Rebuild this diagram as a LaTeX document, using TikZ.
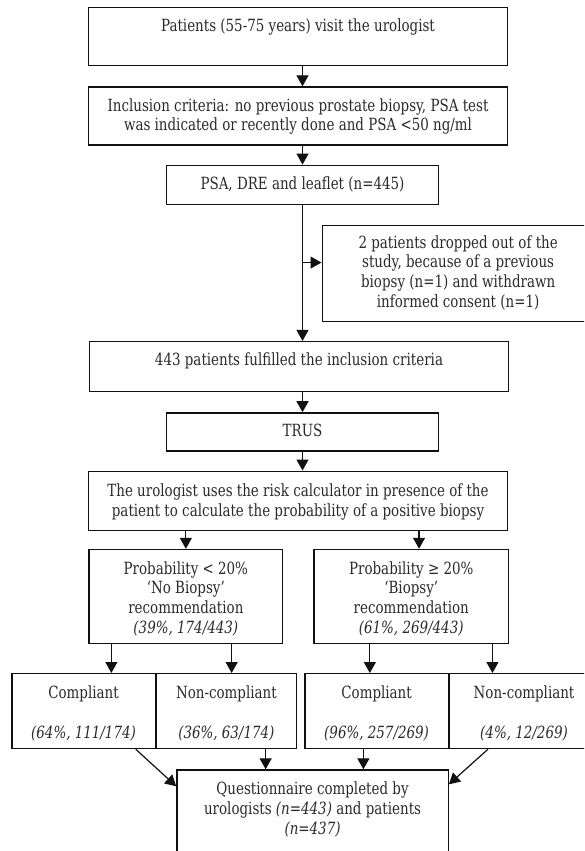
\documentclass[tikz,border=0pt]{standalone}
\usepackage{fontspec}
\setmainfont{DejaVu Serif}[FakeStretch=0.8]
\usetikzlibrary{arrows.meta,calc,positioning}
\definecolor{frame}{HTML}{111111}
\definecolor{txt}{HTML}{2A2A2A}
\tikzset{
  flowbox/.style={draw=frame,line width=1.3pt,fill=white,align=center,text=txt,
    font=\fontsize{16.8pt}{19.8pt}\selectfont,inner xsep=0pt,inner ysep=0pt,text height=24pt},
  sidebox/.style={draw=frame,line width=1.3pt,fill=white,text=txt,
    font=\fontsize{16.8pt}{19.8pt}\selectfont,inner xsep=0pt,inner ysep=0pt,text height=22.5pt,text depth=73.5pt},
  arr/.style={-{Triangle[length=11pt,width=12pt]},line width=1.2pt,draw=frame}
}
\begin{document}
\begin{tikzpicture}
  \useasboundingbox (0,0) rectangle (584pt,-851pt);
  \clip (0,0) rectangle (584pt,-851pt);
  % main column
  \node[flowbox,anchor=north,minimum width=419.3pt,text depth=34pt] (visit) at (298pt,-7pt) {Patients (55-75 years) visit the urologist};
  \node[flowbox,below=20pt of visit,minimum width=419.3pt,text height=44pt,text depth=14pt] (incl) {Inclusion criteria: no previous prostate biopsy, PSA test\\was indicated or recently done and PSA <50 ng/ml};
  \node[flowbox,below=19pt of incl,xshift=4.5pt,minimum width=272pt,text depth=15pt] (psa) {PSA, DRE and leaflet (n=445)};
  \node[sidebox,below right=20pt and 19pt of psa.south] (drop) {\parbox[t]{272pt}{\centering 2 patients dropped out of the\\study, because of a previous\\biopsy (n=1) and withdrawn\\informed consent (n=1)}\hspace*{160pt}};
  \node[flowbox,below=136pt of psa,xshift=-3.5pt,minimum width=419pt,text depth=26pt] (fulfil) {443 patients fulfilled the inclusion criteria};
  \node[flowbox,below=20pt of fulfil,xshift=3.5pt,minimum width=272pt,text depth=14pt] (trus) {TRUS};
  \node[flowbox,below=19pt of trus,xshift=-4.5pt,minimum width=419.3pt,text height=45pt,text depth=14pt] (risk) {The urologist uses the risk calculator in presence of the\\patient to calculate the probability of a positive biopsy};
  % recommendation
  \node[flowbox,below=18pt of risk.south west,anchor=north west,xshift=0.7pt,minimum width=193.6pt,text height=84pt,text depth=10pt] (lowrisk) {Probability < 20\%\\‘No Biopsy’\\recommendation\\\textit{(39\%, 174/443)}};
  \node[flowbox,below=18pt of risk.south east,anchor=north east,xshift=0.8pt,minimum width=194.4pt,text height=84pt,text depth=10pt] (highrisk) {Probability ≥ 20\%\\‘Biopsy’\\recommendation\\\textit{(61\%, 269/443)}};
  % compliance
  \node[flowbox,anchor=north west,minimum width=143.4pt,text height=64.8pt,text depth=10.2pt] (compLow) at (11.2pt,-673pt) {Compliant\\[19.8pt]\textit{(64\%, 111/174)}};
  \node[flowbox,right=0pt of compLow,minimum width=139.6pt,text height=64.8pt,text depth=10.2pt] (ncLow) {Non-compliant\\[19.8pt]\textit{(36\%, 63/174)}};
  \node[flowbox,right=7.5pt of ncLow,minimum width=143.3pt,text height=64.8pt,text depth=10.2pt] (compHigh) {Compliant\\[19.8pt]\textit{(96\%, 257/269)}};
  \node[flowbox,right=0pt of compHigh,minimum width=149pt,text height=64.8pt,text depth=10.2pt] (ncHigh) {Non-compliant\\[19.8pt]\textit{(4\%, 12/269)}};
  \node[flowbox,below=20pt of compHigh.south east,anchor=north east,minimum width=271.4pt,text height=64.3pt,text depth=60pt] (quest) {Questionnaire completed by\\urologists \textit{(n=443)} and patients\\\textit{(n=437)}};
  % arrows
  \draw[arr] (visit.south -| psa) -- (incl.north -| psa);
  \draw[arr] (incl.south -| psa) -- (psa);
  \draw[arr] (psa) -- (fulfil.north -| psa);
  \draw[arr] ($(drop.west -| psa)+(0,11pt)$) -- ($(drop.west)+(0,11pt)$);
  \draw[arr] (fulfil.south -| trus) -- (trus);
  \draw[arr] (trus) -- (risk.north -| trus);
  \draw[arr] (risk.south -| lowrisk) -- (lowrisk);
  \draw[arr] ($(highrisk.north)+(7.8pt,0)$) coordinate (hr) ++(0,18pt) -- (hr);
  \draw[arr] ($(lowrisk.south)+(-74.5pt,0)$) coordinate (l1) -- (l1 |- compLow.north);
  \draw[arr] ($(lowrisk.south)+(45.8pt,0)$) coordinate (l2) -- (l2 |- ncLow.north);
  \draw[arr] ($(highrisk.south)+(-41.4pt,0)$) coordinate (h1) -- (h1 |- compHigh.north);
  \draw[arr] ($(highrisk.south)+(81.2pt,0)$) coordinate (h2) -- (h2 |- ncHigh.north);
  \draw[arr] ($(compLow.south)+(52.3pt,0)$) -- ($(quest.north west)+(0,-17pt)$);
  \draw[arr] ($(ncLow.south)+(39.3pt,0)$) coordinate (q1) -- (q1 |- quest.north);
  \draw[arr] ($(compHigh.south)+(-13.2pt,0)$) coordinate (q2) -- (q2 |- quest.north);
  \draw[arr] ($(ncHigh.south west)+(39pt,0)$) -- ($(quest.north east)+(0,-15pt)$);
\end{tikzpicture}
\end{document}
